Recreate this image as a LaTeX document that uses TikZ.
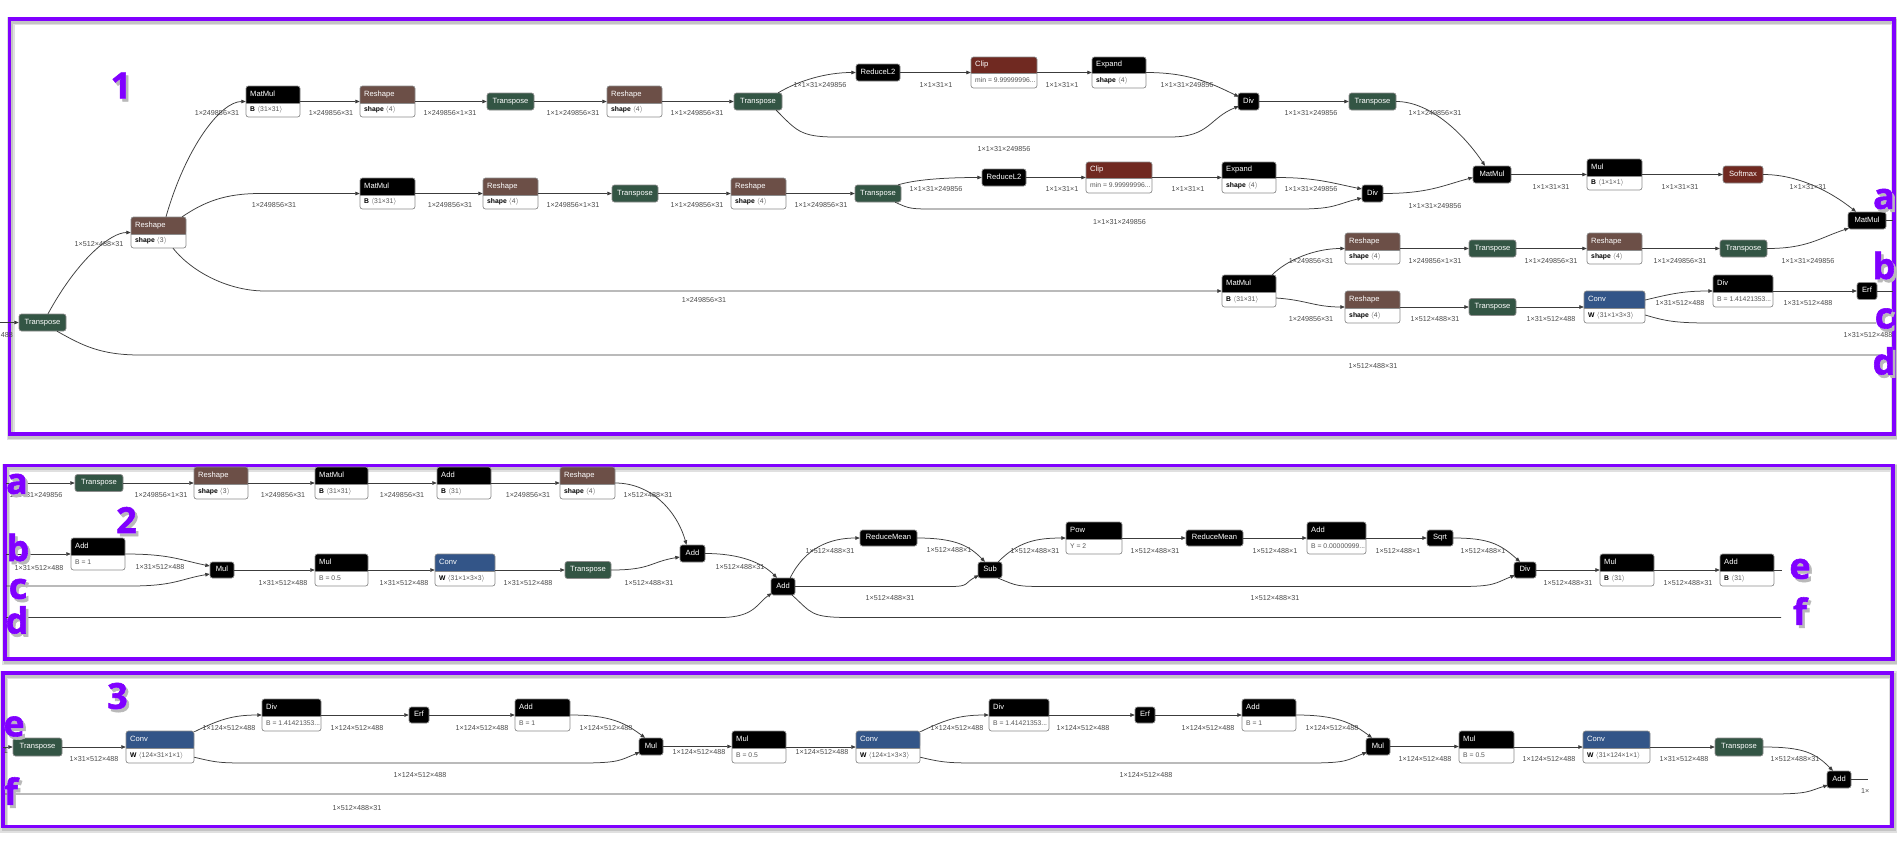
\documentclass[tikz,border=0pt]{standalone}
\usepackage{fontspec}
\usepackage{pdfrender}
\setmainfont{Liberation Sans}
\newfontfamily\bigf{Open Sans}[BoldFeatures={FakeBold=1.6}]
\usetikzlibrary{arrows.meta,fit}
\definecolor{trC}{RGB}{51,85,68}
\definecolor{shC}{RGB}{108,79,71}
\definecolor{cvC}{RGB}{51,85,136}
\definecolor{acC}{RGB}{112,41,33}
\definecolor{purp}{RGB}{128,0,255}
\definecolor{edgeC}{RGB}{60,60,60}
\definecolor{labC}{RGB}{75,75,75}
\definecolor{valC}{RGB}{85,85,85}
\definecolor{bordC}{RGB}{140,140,140}
\definecolor{shadC}{RGB}{185,185,185}
\newcommand\hfnt{\fontsize{7.6}{9}\selectfont}
\newcommand\bfnt{\fontsize{6.8}{8}\selectfont}
\newcommand\lfnt{\fontsize{7.2}{8}\selectfont}
\newcommand\lAng{\ensuremath{\langle}}
\newcommand\rAng{\ensuremath{\rangle}}
\newcommand\ab[2]{\textbf{#1}\ \textcolor{valC}{#2}}
\newcommand\av[1]{\textcolor{valC}{#1}}
\tikzset{
  edge/.style={draw=edgeC,line width=0.75pt,-{Triangle[length=4.5pt,width=3.6pt]}},
  hdrtext/.style={text=white,font=\hfnt,inner sep=0pt,text height=5.5pt,text depth=1.6pt},
  bodytext/.style={text=black,font=\bfnt,inner sep=0pt,text height=5pt,text depth=1.5pt},
  elabel/.style={text=labC,font=\lfnt,inner sep=0pt},
  nodeborder/.style={draw=bordC,line width=0.7pt},
  bigtxt/.style={font={\bigf\bfseries\fontsize{36}{36}\selectfont},inner sep=0pt},
}
% full node: name, x1, y1, x2, yh, y2, color, title, body
\newcommand\opfull[9]{%
  \fill[white,rounded corners=2.5pt] (#2,#3) rectangle (#4,#6);
  \fill[#7,rounded corners=2.5pt] (#2,#3) rectangle (#4,#5);
  \fill[#7] ({#2},{#3+4}) rectangle (#4,#5);
  \draw[nodeborder,rounded corners=2.5pt] (#2,#3) rectangle (#4,#6);
  \draw[nodeborder] (#2,#5) -- (#4,#5);
  \node[fit={(#2,#3) (#4,#6)},inner sep=0pt] (#1) {};
  \node[hdrtext,anchor=west] (#1-t) at ({#2+4},{(#3+#5)/2}) {#8};
  \node[bodytext,anchor=west] (#1-b) at ({#2+4},{(#5+#6)/2}) {#9};
}
% small node: name, x1, y1, x2, y2, color, title
\newcommand\opsmall[7]{%
  \fill[#6,rounded corners=2.5pt] (#2,#3) rectangle (#4,#5);
  \draw[nodeborder,rounded corners=2.5pt] (#2,#3) rectangle (#4,#5);
  \node[fit={(#2,#3) (#4,#5)},inner sep=0pt] (#1) {};
  \node[hdrtext] (#1-t) at ({(#2+#4)/2},{(#3+#5)/2}) {#7};
}
\newcommand\sedge[2]{\draw[edge] (#1.east) -- (#1.east -| #2.west);}
\newcounter{elb}
\newcommand\el[3]{\stepcounter{elb}\node[elabel] (el\arabic{elb}) at (#1,#2) {#3};}
\newcommand\bigmark[4]{%
  \node[bigtxt,text=shadC] (#1-s) at ({#2+2.5},{#3+3}) {\textpdfrender{TextRenderingMode=FillStroke,LineWidth=4.4pt,StrokeColor=shadC,LineJoin=1}{#4}};
  \node[bigtxt,text=white] (#1-o) at (#2,#3) {\textpdfrender{TextRenderingMode=FillStroke,LineWidth=4.4pt,StrokeColor=white,LineJoin=1}{#4}};
  \node[bigtxt,text=purp] (#1) at (#2,#3) {#4};
}
\newcommand\panel[4]{%
  \draw[black,opacity=0.12,line width=8pt] ({#1+1},{#2+2}) rectangle ({#3+1},{#4+2});
  \draw[black,opacity=0.12,line width=5pt] ({#1+1},{#2+2}) rectangle ({#3+1},{#4+2});
  \draw[purp,line width=3.6pt] (#1,#2) rectangle (#3,#4);
}
\begin{document}
\begin{tikzpicture}[x=1pt,y=-1pt]
\useasboundingbox (0,0) rectangle (1897,841);
\fill[white] (0,0) rectangle (1897,841);
\panel{9.5}{19}{1894}{434}
\panel{5}{465.5}{1893}{659}
\panel{3}{673}{1892}{826.5}

% ================= PANEL 1 nodes =================
\opsmall{T0}{19}{314}{66}{331}{trC}{Transpose}
\opfull{R0}{131}{217}{186}{234}{248}{shC}{Reshape}{\ab{shape}{\lAng 3\rAng}}
\opfull{MM1}{246}{86}{300}{103}{117}{black}{MatMul}{\ab{B}{\lAng 31×31\rAng}}
\opfull{R1}{360}{86}{415}{103}{117}{shC}{Reshape}{\ab{shape}{\lAng 4\rAng}}
\opsmall{T1}{487}{93}{534}{110}{trC}{Transpose}
\opfull{R2}{607}{86}{662}{103}{117}{shC}{Reshape}{\ab{shape}{\lAng 4\rAng}}
\opsmall{T2}{734}{93}{782}{110}{trC}{Transpose}
\opsmall{RL1}{856}{64}{900}{81}{black}{ReduceL2}
\opfull{C1}{971}{57}{1037}{73}{88}{acC}{Clip}{\av{min = 9.99999996...}}
\opfull{E1}{1092}{57}{1146}{73}{88}{black}{Expand}{\ab{shape}{\lAng 4\rAng}}
\opsmall{D1}{1238}{93}{1259}{110}{black}{Div}
\opsmall{T5}{1349}{93}{1396}{110}{trC}{Transpose}
\opsmall{MMa}{1473}{166}{1511}{183}{black}{MatMul}
\opfull{Mu1}{1587}{159}{1642}{176}{190}{black}{Mul}{\ab{B}{\lAng 1×1×1\rAng}}
\opsmall{SM}{1723}{166}{1763}{183}{acC}{Softmax}
\opsmall{MMb}{1848}{212}{1886}{229}{black}{MatMul}
\opfull{MM2}{360}{178}{415}{195}{209}{black}{MatMul}{\ab{B}{\lAng 31×31\rAng}}
\opfull{R2b}{483}{178}{538}{195}{209}{shC}{Reshape}{\ab{shape}{\lAng 4\rAng}}
\opsmall{T3}{612}{185}{658}{202}{trC}{Transpose}
\opfull{R3}{731}{178}{786}{195}{209}{shC}{Reshape}{\ab{shape}{\lAng 4\rAng}}
\opsmall{T4}{855}{185}{901}{202}{trC}{Transpose}
\opsmall{RL2}{982}{169}{1026}{186}{black}{ReduceL2}
\opfull{C2}{1086}{162}{1152}{178}{193}{acC}{Clip}{\av{min = 9.99999996...}}
\opfull{E2}{1222}{162}{1276}{178}{193}{black}{Expand}{\ab{shape}{\lAng 4\rAng}}
\opsmall{D2}{1362}{185}{1383}{202}{black}{Div}
\opfull{MM3}{1222}{275}{1276}{292}{307}{black}{MatMul}{\ab{B}{\lAng 31×31\rAng}}
\opfull{R4}{1345}{233}{1400}{250}{264}{shC}{Reshape}{\ab{shape}{\lAng 4\rAng}}
\opfull{R5}{1345}{291}{1400}{308}{323}{shC}{Reshape}{\ab{shape}{\lAng 4\rAng}}
\opsmall{T6}{1469}{240}{1516}{257}{trC}{Transpose}
\opfull{R6}{1587}{233}{1642}{250}{264}{shC}{Reshape}{\ab{shape}{\lAng 4\rAng}}
\opsmall{T8}{1720}{240}{1767}{257}{trC}{Transpose}
\opsmall{T7}{1469}{298.5}{1516}{315.5}{trC}{Transpose}
\opfull{CV1}{1584}{291}{1645}{308}{323}{cvC}{Conv}{\ab{W}{\lAng 31×1×3×3\rAng}}
\opfull{DV}{1713}{275}{1773}{292}{307}{black}{Div}{\av{B = 1.41421353...}}
\opsmall{Erf1}{1857}{282.5}{1877}{299.5}{black}{Erf}

\coordinate (in1) at (0,322.5);
\coordinate (dout) at (1880,355);
\coordinate (aout) at (1893,220.5);
\coordinate (bout) at (1893,291);
\coordinate (cout) at (1876,323);

% ================= PANEL 1 edges =================
\draw[edge] (in1) -- (T0.west);
\draw[edge] ([xshift=5.5pt]T0.north) .. controls +(30,-55) and +(-20,0) .. (R0.west);
\draw[edge] ([xshift=7.5pt]R0.north) .. controls +(20,-70) and +(-25,0) .. (MM1.west);
\draw[edge] ([xshift=-4pt]R0.north east) .. controls +(22,-15) and +(-35,0) .. (260,193.5) -- (MM2.west);
\draw[edge] ([xshift=14.5pt]R0.south) .. controls +(20,25) and +(-35,0) .. (265,291) -- (MM3.west);
\draw[edge,-] ([xshift=14.5pt]T0.south) .. controls +(25,14) and +(-40,0) .. (140,355) -- (dout);
\sedge{MM1}{R1}
\sedge{R1}{T1}
\sedge{T1}{R2}
\sedge{R2}{T2}
\draw[edge] ([xshift=-4pt]T2.north east) .. controls +(20,-12) and +(-30,0) .. (RL1.west);
\sedge{RL1}{C1}
\sedge{C1}{E1}
\draw[edge] (E1.east) .. controls +(40,0) and +(-30,-15) .. ([xshift=1pt,yshift=-4pt]D1.north west);
\draw[edge] ([xshift=-6pt]T2.south east) .. controls +(20,20) and +(-35,0) .. (835,137) -- (1170,137) .. controls +(40,0) and +(-30,12) .. ([xshift=1pt,yshift=4pt]D1.south west);
\sedge{D1}{T5}
\draw[edge] (T5.east) .. controls +(35,0) and +(-20,-30) .. ([xshift=-7pt]MMa.north);
\draw[edge] (D2.east) .. controls +(45,0) and +(-30,8) .. ([yshift=-3pt]MMa.west);
\sedge{MMa}{Mu1}
\sedge{Mu1}{SM}
\draw[edge] (SM.east) .. controls +(35,0) and +(-25,-20) .. ([xshift=-11pt]MMb.north);
\draw[edge] (T8.east) .. controls +(40,0) and +(-30,10) .. ([xshift=1pt,yshift=1pt]MMb.south west);
\draw[edge,-] (MMb.east) -- (aout);
\sedge{MM2}{R2b}
\sedge{R2b}{T3}
\sedge{T3}{R3}
\sedge{R3}{T4}
\draw[edge] ([xshift=-3pt]T4.north east) .. controls +(20,-6) and +(-30,0) .. (RL2.west);
\sedge{RL2}{C2}
\sedge{C2}{E2}
\draw[edge] (E2.east) .. controls +(40,0) and +(-30,-6) .. ([yshift=4.5pt]D2.west);
\draw[edge] ([xshift=-6pt]T4.south east) .. controls +(15,7) and +(-30,0) .. (940,209) -- (1300,209) .. controls +(35,0) and +(-25,6) .. ([yshift=-4.5pt]D2.west);
\draw[edge] ([xshift=-4pt]MM3.north east) .. controls +(15,-15) and +(-30,0) .. (R4.west);
\draw[edge] ([yshift=-7pt]MM3.east) .. controls +(30,2) and +(-30,0) .. (R5.west);
\sedge{R4}{T6}
\sedge{T6}{R6}
\sedge{R6}{T8}
\sedge{R5}{T7}
\sedge{T7}{CV1}
\draw[edge] ([yshift=7pt]CV1.east) .. controls +(25,-6) and +(-30,0) .. (DV.west);
\sedge{DV}{Erf1}
\draw[edge,-] (Erf1.east) -- (bout);
\draw[edge,-] ([yshift=-8pt]CV1.east) .. controls +(20,6) and +(-35,0) .. (1710,323) -- (cout);

% ================= PANEL 1 labels =================
\node[elabel,anchor=east] (el0) at (13,335) {488};
\el{99}{244}{1×512×488×31}
\el{217}{113}{1×249856×31}
\el{331}{113}{1×249856×31}
\el{450}{113}{1×249856×1×31}
\el{573}{113}{1×1×249856×31}
\el{697}{113}{1×1×249856×31}
\el{820}{85}{1×1×31×249856}
\el{936}{85}{1×1×31×1}
\el{1062}{85}{1×1×31×1}
\el{1187}{85}{1×1×31×249856}
\el{1004}{149}{1×1×31×249856}
\el{1311}{113}{1×1×31×249856}
\el{1435}{113}{1×1×249856×31}
\el{1551}{187}{1×1×31×31}
\el{1680}{187}{1×1×31×31}
\el{1808}{187}{1×1×31×31}
\el{274}{205}{1×249856×31}
\el{450}{205}{1×249856×31}
\el{573}{205}{1×249856×1×31}
\el{697}{205}{1×1×249856×31}
\el{821}{205}{1×1×249856×31}
\el{936}{189}{1×1×31×249856}
\el{1062}{189}{1×1×31×1}
\el{1188}{189}{1×1×31×1}
\el{1311}{189}{1×1×31×249856}
\el{1119.5}{222}{1×1×31×249856}
\el{1435}{206}{1×1×31×249856}
\el{704}{300}{1×249856×31}
\el{1311}{261}{1×249856×31}
\el{1311}{319}{1×249856×31}
\el{1435}{261}{1×249856×1×31}
\el{1435}{319}{1×512×488×31}
\el{1551}{261}{1×1×249856×31}
\el{1680}{261}{1×1×249856×31}
\el{1808}{261}{1×1×31×249856}
\el{1551}{319}{1×31×512×488}
\el{1680}{303}{1×31×512×488}
\el{1808}{303}{1×31×512×488}
\el{1868}{335}{1×31×512×488}
\el{1373}{366}{1×512×488×31}

% ================= PANEL 2 nodes =================
\opsmall{T9}{75}{474.5}{123}{491.5}{trC}{Transpose}
\opfull{R7}{194}{467}{248}{484}{499}{shC}{Reshape}{\ab{shape}{\lAng 3\rAng}}
\opfull{MM4}{315}{467}{368}{484}{499}{black}{MatMul}{\ab{B}{\lAng 31×31\rAng}}
\opfull{A1}{437}{467}{491}{484}{499}{black}{Add}{\ab{B}{\lAng 31\rAng}}
\opfull{R8}{560}{467}{615}{484}{499}{shC}{Reshape}{\ab{shape}{\lAng 4\rAng}}
\opfull{A3}{71}{538}{125}{555}{570}{black}{Add}{\av{B = 1}}
\opsmall{M1}{210}{562}{234}{578}{black}{Mul}
\opfull{M2}{315}{554}{368}{571}{586}{black}{Mul}{\av{B = 0.5}}
\opfull{CV2}{435}{554}{495}{571}{586}{cvC}{Conv}{\ab{W}{\lAng 31×1×3×3\rAng}}
\opsmall{T10}{565}{561.5}{611}{578.5}{trC}{Transpose}
\opsmall{A2}{680}{545}{705}{562}{black}{Add}
\opsmall{A4}{771}{578}{795}{595}{black}{Add}
\opsmall{RM1}{860}{530}{917}{546}{black}{ReduceMean}
\opsmall{Sub}{978}{562}{1002}{578}{black}{Sub}
\opfull{Pow}{1066}{522}{1122}{539}{554}{black}{Pow}{\av{Y = 2}}
\opsmall{RM2}{1186}{530}{1243}{546}{black}{ReduceMean}
\opfull{A5}{1307}{522}{1366}{539}{554}{black}{Add}{\av{B = 0.00000999...}}
\opsmall{Sqrt}{1427}{530}{1453}{546}{black}{Sqrt}
\opsmall{DV2}{1514}{562}{1536}{578}{black}{Div}
\opfull{M3}{1600}{554}{1654}{571}{586}{black}{Mul}{\ab{B}{\lAng 31\rAng}}
\opfull{A6}{1720}{554}{1774}{571}{586}{black}{Add}{\ab{B}{\lAng 31\rAng}}

\coordinate (ain) at (6,483);
\coordinate (bin) at (6,554);
\coordinate (cin) at (6,586);
\coordinate (din) at (6,617.5);
\coordinate (eout) at (1782,570);
\coordinate (fout) at (1781,617.5);

% ================= PANEL 2 edges =================
\draw[edge] (ain) -- (T9.west);
\sedge{T9}{R7}
\sedge{R7}{MM4}
\sedge{MM4}{A1}
\sedge{A1}{R8}
\draw[edge] (R8.east) .. controls +(35,0) and +(-10,-35) .. ([xshift=-6pt]A2.north);
\draw[edge] (bin) -- (A3.west);
\draw[edge] (A3.east) .. controls +(45,0) and +(-30,-6) .. ([yshift=4pt]M1.west);
\draw[edge] (cin) -- (130,586) .. controls +(45,0) and +(-30,5) .. ([yshift=-4pt]M1.west);
\sedge{M1}{M2}
\sedge{M2}{CV2}
\sedge{CV2}{T10}
\draw[edge] (T10.east) .. controls +(40,0) and +(-30,5) .. ([yshift=-3.5pt]A2.west);
\draw[edge] (din) -- (720,617.5) .. controls +(35,0) and +(-15,10) .. ([xshift=1pt,yshift=2pt]A4.south west);
\draw[edge] (A2.east) .. controls +(35,0) and +(-15,-15) .. ([xshift=-6pt]A4.north);
\draw[edge] ([xshift=-5pt]A4.north east) .. controls +(15,-30) and +(-30,0) .. (RM1.west);
\draw[edge] (A4.east) -- (950,586.5) .. controls +(20,0) and +(-15,8) .. ([xshift=1pt,yshift=3pt]Sub.south west);
\draw[edge,-] ([xshift=-3pt]A4.south east) .. controls +(20,18) and +(-40,0) .. (850,617.5) -- (fout);
\draw[edge] (RM1.east) .. controls +(40,0) and +(-15,-15) .. ([xshift=-5pt]Sub.north);
\draw[edge] ([xshift=-4pt]Sub.north east) .. controls +(20,-20) and +(-30,0) .. (Pow.west);
\draw[edge] ([xshift=-4pt]Sub.south east) .. controls +(20,8) and +(-35,0) .. (1050,586.5) -- (1460,586.5) .. controls +(35,0) and +(-20,8) .. ([xshift=1pt,yshift=3pt]DV2.south west);
\sedge{Pow}{RM2}
\sedge{RM2}{A5}
\sedge{A5}{Sqrt}
\draw[edge] (Sqrt.east) .. controls +(35,0) and +(-20,-18) .. ([xshift=-5pt]DV2.north);
\sedge{DV2}{M3}
\sedge{M3}{A6}
\draw[edge,-] (A6.east) -- (eout);

% ================= PANEL 2 labels =================
\el{36}{495}{1×1×31×249856}
\el{161}{495}{1×249856×1×31}
\el{283}{495}{1×249856×31}
\el{402}{495}{1×249856×31}
\el{528}{495}{1×249856×31}
\el{648}{495}{1×512×488×31}
\el{39}{568}{1×31×512×488}
\el{160}{567}{1×31×512×488}
\el{283}{583}{1×31×512×488}
\el{404}{583}{1×31×512×488}
\el{528}{583}{1×31×512×488}
\el{649}{583}{1×512×488×31}
\el{740}{567}{1×512×488×31}
\el{830}{551}{1×512×488×31}
\el{890}{598}{1×512×488×31}
\el{949}{550}{1×512×488×1}
\el{1035}{551}{1×512×488×31}
\el{1155}{551}{1×512×488×31}
\el{1275}{551}{1×512×488×1}
\el{1398}{551}{1×512×488×1}
\el{1483}{551}{1×512×488×1}
\el{1275}{598}{1×512×488×31}
\el{1568}{583}{1×512×488×31}
\el{1688}{583}{1×512×488×31}

% ================= PANEL 3 nodes =================
\opsmall{T11}{13}{738}{62}{756}{trC}{Transpose}
\opfull{CV3}{126}{731}{194}{748}{763}{cvC}{Conv}{\ab{W}{\lAng 124×31×1×1\rAng}}
\opfull{DV3}{262}{699}{321}{716}{731}{black}{Div}{\av{B = 1.41421353...}}
\opsmall{E3}{409}{707}{429}{723}{black}{Erf}
\opfull{A7}{515}{699}{570}{716}{731}{black}{Add}{\av{B = 1}}
\opsmall{M4}{639}{738}{663}{755}{black}{Mul}
\opfull{M5}{732}{731}{786}{748}{763}{black}{Mul}{\av{B = 0.5}}
\opfull{CV4}{856}{731}{920}{748}{763}{cvC}{Conv}{\ab{W}{\lAng 124×1×3×3\rAng}}
\opfull{DV4}{989}{699}{1049}{716}{731}{black}{Div}{\av{B = 1.41421353...}}
\opsmall{E4}{1135}{707}{1155}{723}{black}{Erf}
\opfull{A8}{1242}{699}{1296}{716}{731}{black}{Add}{\av{B = 1}}
\opsmall{M6}{1366}{738}{1390}{755}{black}{Mul}
\opfull{M7}{1459}{731}{1514}{748}{763}{black}{Mul}{\av{B = 0.5}}
\opfull{CV5}{1583}{731}{1650}{748}{763}{cvC}{Conv}{\ab{W}{\lAng 31×124×1×1\rAng}}
\opsmall{T12}{1715}{738}{1763}{756}{trC}{Transpose}
\opsmall{A9}{1827}{771}{1851}{788}{black}{Add}

\coordinate (ein) at (3,747);
\coordinate (fin) at (5,794);
\coordinate (outp) at (1868,779.5);

% ================= PANEL 3 edges =================
\draw[edge] (ein) -- (T11.west);
\sedge{T11}{CV3}
\draw[edge] ([yshift=-1pt]CV3.north east) .. controls +(25,-12) and +(-30,0) .. (DV3.west);
\sedge{DV3}{E3}
\sedge{E3}{A7}
\draw[edge] (A7.east) .. controls +(40,0) and +(-20,-15) .. ([xshift=-6pt]M4.north);
\draw[edge] ([yshift=6pt]CV3.south east) .. controls +(25,6) and +(-40,0) .. (260,763) -- (580,763) .. controls +(40,0) and +(-20,8) .. ([xshift=1pt,yshift=3pt]M4.south west);
\sedge{M4}{M5}
\sedge{M5}{CV4}
\draw[edge] ([yshift=-1pt]CV4.north east) .. controls +(25,-12) and +(-30,0) .. (DV4.west);
\sedge{DV4}{E4}
\sedge{E4}{A8}
\draw[edge] (A8.east) .. controls +(40,0) and +(-20,-15) .. ([xshift=-6pt]M6.north);
\draw[edge] ([yshift=6pt]CV4.south east) .. controls +(25,6) and +(-40,0) .. (990,763) -- (1308,763) .. controls +(40,0) and +(-20,8) .. ([xshift=1pt,yshift=3pt]M6.south west);
\sedge{M6}{M7}
\sedge{M7}{CV5}
\sedge{CV5}{T12}
\draw[edge] (T12.east) .. controls +(40,0) and +(-18,-18) .. ([xshift=-6pt]A9.north);
\draw[edge] (fin) -- (1770,794) .. controls +(40,0) and +(-20,6) .. ([xshift=1pt,yshift=3pt]A9.south west);
\draw[edge,-] (A9.east) -- (outp);

% ================= PANEL 3 labels =================
\node[elabel,anchor=east] (el00) at (8,751) {1};
\el{94}{759}{1×31×512×488}
\el{229}{728}{1×124×512×488}
\el{357}{728}{1×124×512×488}
\el{482}{728}{1×124×512×488}
\el{606}{728}{1×124×512×488}
\el{420}{775}{1×124×512×488}
\el{699}{752}{1×124×512×488}
\el{822}{752}{1×124×512×488}
\el{957}{728}{1×124×512×488}
\el{1083}{728}{1×124×512×488}
\el{1208}{728}{1×124×512×488}
\el{1332}{728}{1×124×512×488}
\el{1146}{775}{1×124×512×488}
\el{1425}{759}{1×124×512×488}
\el{1549}{759}{1×124×512×488}
\el{1684}{759}{1×31×512×488}
\el{1795}{759}{1×512×488×31}
\el{357}{808}{1×512×488×31}
\node[elabel,anchor=west] (el01) at (1861,791) {1×};

% ================= big marks =================
\bigmark{n1}{121}{85.5}{1}
\bigmark{ma1}{1884}{199}{a}
\bigmark{mb1}{1884}{265.5}{b}
\bigmark{mc1}{1884}{318.5}{c}
\bigmark{md1}{1884}{361}{d}
\bigmark{n2}{126.5}{520}{2}
\bigmark{ma2}{17}{484}{a}
\bigmark{mb2}{18}{547.5}{b}
\bigmark{mc2}{18}{589}{c}
\bigmark{md2}{17}{620}{d}
\bigmark{me2}{1800}{569}{e}
\bigmark{mf2}{1800}{611}{f}
\bigmark{n3}{117.5}{696}{3}
\bigmark{me3}{14}{726.5}{e}
\bigmark{mf3}{11}{791}{f}
\end{tikzpicture}
\end{document}
